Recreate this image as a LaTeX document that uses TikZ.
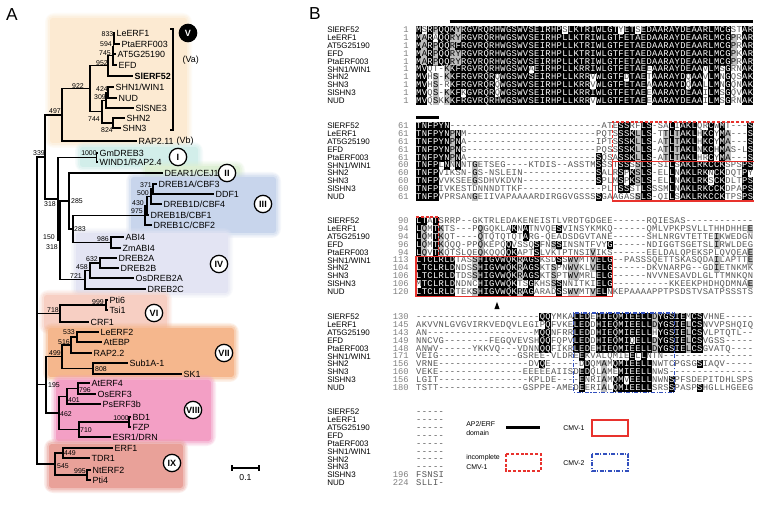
\documentclass[tikz,border=0pt]{standalone}
\usepackage{fontspec}
\setmainfont{Liberation Sans}
\newfontfamily\almonofam{Liberation Mono}
\definecolor{cV}{HTML}{FCEAD2}
\definecolor{cI}{HTML}{D2EEEA}
\definecolor{cII}{HTML}{DDEFD4}
\definecolor{cIII}{HTML}{C8D5EC}
\definecolor{cIV}{HTML}{E3E4F3}
\definecolor{cVI}{HTML}{F7CFC3}
\definecolor{cVII}{HTML}{F5B78D}
\definecolor{cVIII}{HTML}{F39FC5}
\definecolor{cIX}{HTML}{E9A199}
\definecolor{algray}{HTML}{BEBEBE}
\definecolor{alw}{HTML}{555555}
\definecolor{redb}{RGB}{232,50,45}
\definecolor{blueb}{RGB}{50,80,190}
\newcommand\tlf{\fontsize{6.7}{7.5}\selectfont}
\newcommand\tbs{\fontsize{5.2}{6}\selectfont}
\newcommand\cirf{\fontsize{6.8}{7}\selectfont\bfseries}
\newcommand\almono{\almonofam\fontsize{6.6}{7}\selectfont}
\newcommand\alnmf{\fontsize{6}{7}\selectfont}
\newcommand\lgf{\fontsize{5.2}{6}\selectfont}
\newcommand\softbox[5]{%
  \fill[#1,opacity=0.18,rounded corners=7pt] (#2-5,#3-5) rectangle (#4+5,#5+5);
  \fill[#1,opacity=0.25,rounded corners=5pt] (#2-3.5,#3-3.5) rectangle (#4+3.5,#5+3.5);
  \fill[#1,opacity=0.4,rounded corners=3.5pt] (#2-2,#3-2) rectangle (#4+2,#5+2);
  \fill[#1,rounded corners=2pt] (#2,#3) rectangle (#4,#5);}
\newcommand\alcell[4]{%
  \if b#3%
    \fill[black] (#1-0.15,#2-4.1) rectangle (#1+5.77,#2+4.1);
    \node[alch,text=white] at (#1+2.81,#2+2.5) {#4};%
  \else\if g#3%
    \fill[algray] (#1-0.15,#2-4.1) rectangle (#1+5.77,#2+4.1);
    \node[alch,text=black] at (#1+2.81,#2+2.5) {#4};%
  \else
    \node[alch,text=alw] at (#1+2.81,#2+2.5) {#4};%
  \fi\fi}
\ExplSyntaxOn
\int_new:N \l_al_cnt_int
\int_new:N \l_al_len_int
\tl_new:N \l_al_ch_tl
\cs_new:Npn \algap #1 { \prg_replicate:nn {#1} {-} }
\cs_new_protected:Npn \alrow #1#2#3
  {
    \tl_gclear_new:c { g_al_#1_#2_tl }
    \tl_gset:cx { g_al_#1_#2_tl } {#3}
  }
\cs_new_protected:Npn \aldraw #1#2#3
  {
    \int_step_inline:nn {10}
      {
        \int_set:Nn \l_al_len_int { \tl_count:c { g_al_#1_##1_tl } }
        \int_step_inline:nn { \l_al_len_int }
          {
            \tl_set:Nx \l_al_ch_tl { \tl_item:cn { g_al_#1_##1_tl } {####1} }
            \int_zero:N \l_al_cnt_int
            \int_step_inline:nn {10}
              {
                \str_if_eq:eeT { \tl_item:cn { g_al_#1_########1_tl } {####1} } { \l_al_ch_tl }
                  { \int_incr:N \l_al_cnt_int }
              }
            \str_if_eq:eeT { \l_al_ch_tl } { - } { \int_zero:N \l_al_cnt_int }
            \use:x
              {
                \exp_not:N \alcell
                  { \fp_eval:n { #3 + ( ####1 - 1 ) * 5.62 } }
                  { \fp_eval:n { #2 + ( ##1 - 1 ) * 7.9 } }
                  { \int_compare:nNnTF { \l_al_cnt_int } > { 4 } { b }
                      { \int_compare:nNnTF { \l_al_cnt_int } = { 4 } { g } { w } } }
                  { \l_al_ch_tl }
              }
          }
      }
  }
\ExplSyntaxOff
% block 1
\alrow{1}{1}{MSRPQQKYRGVRQRHWGSWVSEIRHPSLKTRIWLGTYETSEDAARAYDEAARLMCGSTAR}
\alrow{1}{2}{MARAQQRYRGVRQRHWGSWVSEIRHPLLKTRIWLGTFETAEDAARAYDEAARLMCGPRAR}
\alrow{1}{3}{MARPQQRFRGVRQRHWGSWVSEIRHPLLKTRIWLGTFETAEDAARAYDEAARLMCGPRAR}
\alrow{1}{4}{MARPQQRYRGVRQRHWGSWVSEIRHPLLKTRIWLGTFETAEDAARAYDEAARLMCGPKAR}
\alrow{1}{5}{MARPQQRYRGVRQRHWGSWVSEIRHPLLKTRIWLGTFETAEDAARAYDEAARLMCGPRAR}
\alrow{1}{6}{MVQT-KKFRGVRQRHWGSWVAEIRHPLLKRRIWLGTFETAEEAARAYDEAAVLMSGRNAK}
\alrow{1}{7}{MVHS-KKFRGVRQRQWGSWVSEIRHPLLKRRVWLGTFDTAETAARAYDQAAVLMNGQSAK}
\alrow{1}{8}{MVHS-RKFRGVRQRQWGSWVSEIRHPLLKRRVWLGTFETAEAAARAYDQAALLMNGQNAK}
\alrow{1}{9}{MVQS-KKFKGVRQRQWGSWVSEIRHPLLKRRIWLGTFETAEEAARAYDEAAILMSGQVAK}
\alrow{1}{10}{MVQSKKKFRGVRQRHWGSWVSEIRHPLLKRRVWLGTFETAEEAARAYDEAAILMSGRNAK}
% block 2
\alrow{2}{1}{TNFPYN\algap{27}ATESSRFLS-SALIAKLQRCWMT---S}
\alrow{2}{2}{TNFPYNPNM\algap{23}PQTSSSKLLS-TTLTAKLHKCYMA---S}
\alrow{2}{3}{TNFPYNPNA\algap{23}IPTSSSKLLS-ATLTAKLHKCYMA---S}
\alrow{2}{4}{TNFPYNPNG\algap{23}PQSSSSKLLS-ATLTAKLNKCHMAS-LS}
\alrow{2}{5}{TNFPYNPNA\algap{23}SQSASSKLLS-ATLTAKLHRCYMA---S}
\alrow{2}{6}{TNFPLNNNNTGETSEG----KTDIS--ASSTMSSSTSSSSLS-SILSAKLRKCCKSPSPS}
\alrow{2}{7}{TNFPVIKSN-GS-NSLEIN\algap{13}SALRSPKSLS-ELLNAKLRKNCKDQTPY}
\alrow{2}{8}{TNFPVVKSEEGSDHVKDVN\algap{13}SPLMSPKSLS-ELLNAKLRKSCKDLTPS}
\alrow{2}{9}{TNFPIVKESTDNNNDTTKF\algap{14}PLTSSSTLSSSMLNAKLRKCCKDPAPS}
\alrow{2}{10}{TNFPVPRSANGEIIVAPAAAARDIRGGVGSSSSGAAGASSLS-QILSAKLRKCCKTPSPS}
% block 3
\alrow{3}{1}{LTATSRRP--GKTRLEDAKENEISTLVRDTGDGEE\algap{6}RQIESAS\algap{12}}
\alrow{3}{2}{LQMTKTS---PQGQKLAKNATNVQESVINSYKMKQ\algap{6}QMLVPKPSVLLTHHDHHEE}
\alrow{3}{3}{LQMTKQT----QTQTQTQTARG-QEADSDGVTANE\algap{6}SHLNRGVTETTEIKWEDGN}
\alrow{3}{4}{LQMTKQQQ-PPQKEPQQVSSQSFNSSINSNTFVYG\algap{6}NDIGGTSGETSLIRWLDEG}
\alrow{3}{5}{LQVTKQTSLQEQKQQQQKAPTSLVKTPTNSIVIKS\algap{6}EELDALQPEKSPLQVQEAE}
\alrow{3}{6}{LTCLRLDTASSHIGVWQKRAGSKSDSSWVMTVELG--PASSSQETTSKASQDAILAPTTE}
\alrow{3}{7}{LTCLRLDNDSSHIGVWQKRAGSKTSPNWVKLVELG\algap{6}DKVNARPG--GDIETNKMK}
\alrow{3}{8}{LTCLRLDTDSSHIGVWQKRAGSKTSPTWVMRLELG\algap{6}NVVNESAVDLGLTTMNKQN}
\alrow{3}{9}{MTCLRLDNDNCHIGVWQKTSGKHSSSNNITKIELG\algap{10}KKEEKPHDHQDMNAE}
\alrow{3}{10}{LTCLRLDTEKSHIGVWQKRAGARADSSWVMTVELNKEPAAAAPPTPSDSTVSATPSSSTS}
% block 4
\alrow{4}{1}{\algap{22}QQYMKALEDEHIEQMIEELLDYGSIEMCSVHNE\algap{5}}
\alrow{4}{2}{AKVVNLGVGVIRKVEDQVLEGIPQFVKELEDDHIEQMIEELLDYGSIELCSNVVPSHQIQ}
\alrow{4}{3}{AN\algap{19}MQQNFRRLEDDHIEQMIEELLHYGSIELCSVLPTQTL--}
\alrow{4}{4}{NNCVG\algap{8}FEGQVEVSHQQFQPVLEDDHIEQMIQELLDYGSIELCSVGSS\algap{5}}
\alrow{4}{5}{ANWV\algap{6}YKKVQ---VDNNQQFIKRLEDEHIEQMIEELLDYGSIELCSGVATQ\algap{4}}
\alrow{4}{6}{VEIG\algap{14}GSREE-VLDREEKVALQMIEELLNTN\algap{16}}
\alrow{4}{7}{VRNE\algap{16}DVQE\algap{5}DDQMAMQMIEELLNWTCPGSGSIAQV\algap{5}}
\alrow{4}{8}{VEKE\algap{15}EEEEEAIISDEDQLAMEMIEELLNWS\algap{15}}
\alrow{4}{9}{LGIT\algap{16}KPLDE\algap{4}ENRIAMQMVEELLNWNSPFSDEPITDHLSPS}
\alrow{4}{10}{TSTT\algap{15}GSPPE-AMEDEERIALQMIEELLSRSSPASPSHGLLHGEEG}
% block 5
\alrow{5}{1}{-----}\alrow{5}{2}{-----}\alrow{5}{3}{-----}\alrow{5}{4}{-----}
\alrow{5}{5}{-----}\alrow{5}{6}{-----}\alrow{5}{7}{-----}\alrow{5}{8}{-----}
\alrow{5}{9}{FSNSI}\alrow{5}{10}{SLLI-}
\begin{document}
\begin{tikzpicture}[x=0.75pt,y=-0.75pt,
  br/.style={line width=1pt},
  lf/.style={anchor=west,inner sep=1pt,font=\tlf},
  bs/.style={inner sep=0pt,font=\tbs},
  circ/.style={circle,draw,line width=0.95pt,fill=white,inner sep=0pt,minimum size=13pt,font=\cirf},
  alch/.style={inner sep=0pt,anchor=base,font=\almono},
  alname/.style={inner sep=0pt,anchor=base west,font=\alnmf},
  alnum/.style={inner sep=0pt,anchor=base east,font=\almono,text=black!50},
  lg/.style={inner sep=0pt,anchor=west,font=\lgf},
  rsolid/.style={draw=redb,line width=1.1pt},
  rdash/.style={draw=redb,line width=1.1pt,dash pattern=on 2.2pt off 1.4pt},
  bdd/.style={draw=blueb,line width=1.1pt,dash pattern=on 3pt off 1.2pt on 0.8pt off 1.2pt}]
\fill[white] (0,0) rectangle (763,505);
\useasboundingbox (0,0) rectangle (763,505);
% ---------- panel A backgrounds
\softbox{cV}{50}{18}{187}{143}
\softbox{cI}{80}{147}{198}{167}
\softbox{cII}{145}{166}{240}{181}
\softbox{cIII}{131}{177}{276}{233}
\softbox{cIV}{76}{233}{228}{293}
\softbox{cVI}{44}{295}{167}{329}
\softbox{cVII}{48}{328}{234}{377}
\softbox{cVIII}{56}{380}{211}{441}
\softbox{cIX}{49}{444}{183}{488}
\node[font=\fontsize{13}{15}\selectfont,inner sep=0pt] (pA) at (12,15) {A};
\node[font=\fontsize{13}{15}\selectfont,inner sep=0pt] (pB) at (315,14) {B};
% ---------- leaves
\node[lf] (LeERF1) at (115,33) {LeERF1};
\node[lf] (PtaERF003) at (120,44) {PtaERF003};
\node[lf] (AT5G) at (116,54) {AT5G25190};
\node[lf] (EFD) at (117,65) {EFD};
\node[lf,font=\tlf\bfseries] (SlERF52) at (133,76) {SlERF52};
\node[lf] (SHN1) at (114,87) {SHN1/WIN1};
\node[lf] (NUD) at (117,98) {NUD};
\node[lf] (SlSNE3) at (134,108) {SlSNE3};
\node[lf] (SHN2) at (125,118) {SHN2};
\node[lf] (SHN3) at (121,128) {SHN3};
\node[lf] (RAP211) at (137,141) {RAP2.11};
\node[lf] (Vb) at (175,141) {(Vb)};
\node[lf] (Va) at (181,60) {(Va)};
\node[lf] (GmDREB3) at (98,153) {GmDREB3};
\node[lf] (WIND1) at (98,162) {WIND1/RAP2.4};
\node[lf] (DEAR1) at (163,173) {DEAR1/CEJ1};
\node[lf] (DREB1A) at (157,184) {DREB1A/CBF3};
\node[lf] (DDF1) at (214,194) {DDF1};
\node[lf] (DREB1D) at (162,204) {DREB1D/CBF4};
\node[lf] (DREB1B) at (149,215) {DREB1B/CBF1};
\node[lf] (DREB1C) at (152,225) {DREB1C/CBF2};
\node[lf] (ABI4) at (124,237) {ABI4};
\node[lf] (ZmABI4) at (121,248) {ZmABI4};
\node[lf] (DREB2A) at (117,258) {DREB2A};
\node[lf] (DREB2B) at (119,268) {DREB2B};
\node[lf] (OsDREB2A) at (134,278) {OsDREB2A};
\node[lf] (DREB2C) at (146,289) {DREB2C};
\node[lf] (Pti6) at (108,300) {Pti6};
\node[lf] (Tsi1) at (108,310) {Tsi1};
\node[lf] (CRF1) at (89,322) {CRF1};
\node[lf] (LeERF2) at (99,332) {LeERF2};
\node[lf] (AtEBP) at (102,342) {AtEBP};
\node[lf] (RAP22) at (92,353) {RAP2.2};
\node[lf] (Sub1A) at (128,363) {Sub1A-1};
\node[lf] (SK1) at (182,374) {SK1};
\node[lf] (AtERF4) at (90,383) {AtERF4};
\node[lf] (OsERF3) at (96,394) {OsERF3};
\node[lf] (PsERF3b) at (101,404) {PsERF3b};
\node[lf] (BD1) at (131,417) {BD1};
\node[lf] (FZP) at (131,427) {FZP};
\node[lf] (ESR1) at (111,437) {ESR1/DRN};
\node[lf] (ERF1) at (113,448) {ERF1};
\node[lf] (TDR1) at (90,458) {TDR1};
\node[lf] (NtERF2) at (91,470) {NtERF2};
\node[lf] (Pti4) at (91,480) {Pti4};
% ---------- internal nodes
\coordinate (a1) at (114,38.5);
\coordinate (a2) at (113.5,46.25);
\coordinate (a3) at (113,55.6);
\coordinate (b952) at (108,65.8);
\coordinate (c424) at (108,92.5);
\coordinate (c309) at (106,100.25);
\coordinate (c824) at (113,123);
\coordinate (c744) at (102,111.6);
\coordinate (d922) at (90,88.7);
\coordinate (e497) at (62,114.9);
\coordinate (i1000) at (96.5,157.5);
\coordinate (s371) at (153,189);
\coordinate (t500) at (151,196.5);
\coordinate (u430) at (147,205.75);
\coordinate (q975) at (145,215.4);
\coordinate (v986) at (111,242.5);
\coordinate (p283) at (73,229);
\coordinate (n285) at (69,201);
\coordinate (w632) at (100,263);
\coordinate (x458) at (90,270.5);
\coordinate (o721) at (85,279.75);
\coordinate (m150) at (60,240.4);
\coordinate (k318) at (58,199);
\coordinate (f339) at (45,157);
\coordinate (y999) at (106,305);
\coordinate (z718) at (60,313.5);
\coordinate (aa533) at (77,337);
\coordinate (ab516) at (71,345);
\coordinate (ac808) at (93,368.5);
\coordinate (ad499) at (62,356.75);
\coordinate (ae796) at (78,388.5);
\coordinate (af401) at (67,396.25);
\coordinate (ag1000) at (129,422);
\coordinate (ah710) at (79,429.5);
\coordinate (ai462) at (59,412.9);
\coordinate (aj195) at (46,384.8);
\coordinate (ak449) at (63,453);
\coordinate (al995) at (87,475);
\coordinate (am545) at (55,464);
\coordinate (root) at (37,310);
\foreach \p/\c in {a1/LeERF1.west,a1/PtaERF003.west,a2/a1,a2/AT5G.west,a3/a2,a3/EFD.west,
  b952/a3,b952/SlERF52.west,c424/SHN1.west,c424/NUD.west,c309/c424,c309/SlSNE3.west,
  c824/SHN2.west,c824/SHN3.west,c744/c309,c744/c824,d922/b952,d922/c744,e497/d922,
  e497/RAP211.west,f339/e497,f339/k318,k318/i1000,k318/m150,i1000/GmDREB3.west,
  i1000/WIND1.west,m150/n285,m150/o721,n285/DEAR1.west,n285/p283,p283/q975,p283/v986,
  q975/u430,q975/DREB1C.west,u430/t500,u430/DREB1B.west,t500/s371,t500/DREB1D.west,
  s371/DREB1A.west,s371/DDF1.west,v986/ABI4.west,v986/ZmABI4.west,o721/x458,
  o721/DREB2C.west,x458/w632,x458/OsDREB2A.west,w632/DREB2A.west,w632/DREB2B.west,
  root/f339,root/z718,root/aj195,root/am545,z718/y999,z718/CRF1.west,y999/Pti6.west,
  y999/Tsi1.west,aj195/ad499,aj195/ai462,ad499/ab516,ad499/ac808,ab516/aa533,
  ab516/RAP22.west,aa533/LeERF2.west,aa533/AtEBP.west,ac808/Sub1A.west,ac808/SK1.west,
  ai462/af401,ai462/ah710,af401/ae796,af401/PsERF3b.west,ae796/AtERF4.west,
  ae796/OsERF3.west,ah710/ag1000,ah710/ESR1.west,ag1000/BD1.west,ag1000/FZP.west,
  am545/ak449,am545/al995,ak449/ERF1.west,ak449/TDR1.west,al995/NtERF2.west,al995/Pti4.west}
  \draw[br] (\p) |- (\c);
% bootstrap values
\foreach \t/\x/\y [count=\k] in {833/107.5/34,594/106/44,745/105/53.5,952/102/63,922/78/86,
  424/102/89,309/100/97.5,744/94/119,824/107/130,497/55/111,339/39/153,1000/89/153.5,
  371/146/185,500/143/193,430/138/203,975/137/211.5,285/77/201,283/80/229,318/50/204,
  150/49/237,318/52/247,986/103/239.5,632/92/259,458/82/267,721/76/276.5,999/98/302,
  718/53/310.5,533/69/332,516/64/342,499/55/353,808/101/369,195/54/385,796/85/390,
  401/74/400,462/66/414,1000/121/418.5,710/86/430,449/70/453,545/63/466,995/80/471}
  \node[bs] (bs\k) at (\x,\y) {\t};
% clade bracket V
\coordinate (brt) at (173,29);
\coordinate (brb) at (173,130);
\draw[line width=0.9pt] ([xshift=-2.2pt]brt) -- (brt) -- (brb) -- ([xshift=-2.2pt]brb);
% circles
\node[circ,fill=black,text=white] (cV) at (188,33) {V};
\node[circ] (cI) at (178,157) {I};
\node[circ] (cII) at (227,173) {II};
\node[circ] (cIII) at (263,204) {III};
\node[circ] (cIV) at (219,264) {IV};
\node[circ] (cVI) at (154,313) {VI};
\node[circ] (cVII) at (224,353) {VII};
\node[circ] (cVIII) at (193,410) {VIII};
\node[circ] (cIX) at (172,463) {IX};
% scale bar
\coordinate (sbl) at (232,468);
\coordinate (sbr) at (259,468);
\draw[line width=0.9pt] (sbl) -- (sbr);
\draw[line width=0.9pt] ([yshift=2pt]sbl) -- ([yshift=-2pt]sbl);
\draw[line width=0.9pt] ([yshift=2pt]sbr) -- ([yshift=-2pt]sbr);
\node[font=\fontsize{6.5}{7}\selectfont,inner sep=0pt] (sbt) at (245.5,477.5) {0.1};
% ---------- panel B
\draw[line width=2.3pt] (449.7,21.5) -- (753,21.5);
\draw[line width=2.3pt] (416,117.5) -- (438.5,117.5);
\aldraw{1}{30}{416}
\aldraw{2}{126}{416}
\aldraw{3}{221}{416}
\aldraw{4}{317}{416}
\aldraw{5}{412}{416}
\foreach \yb [count=\bi] in {30,126,221,317,412}{
  \foreach \nm [count=\ri from 0] in {SlERF52,LeERF1,AT5G25190,EFD,PtaERF003,SHN1/WIN1,SHN2,SHN3,SlSHN3,NUD}
    \node[alname] (nm-\bi-\ri) at (327,\yb+\ri*7.9+2.6) {\nm};
}
\foreach \n [count=\ri from 0] in {1,1,1,1,1,1,1,1,1,1}
  \node[alnum] (na-\ri) at (409,30+\ri*7.9+2.5) {\n};
\foreach \n [count=\ri from 0] in {61,61,61,61,61,60,60,60,60,61}
  \node[alnum] (nb-\ri) at (409,126+\ri*7.9+2.5) {\n};
\foreach \n [count=\ri from 0] in {90,94,94,96,94,113,104,106,106,120}
  \node[alnum] (nc-\ri) at (409,221+\ri*7.9+2.5) {\n};
\foreach \n [count=\ri from 0] in {130,145,143,149,148,171,156,160,156,180}
  \node[alnum] (nd-\ri) at (409,317+\ri*7.9+2.5) {\n};
\node[alnum] (ne-8) at (409,412+8*7.9+2.5) {196};
\node[alnum] (ne-9) at (409,412+9*7.9+2.5) {224};
% CMV boxes
\draw[rdash] (753.5,122) -- (612.7,122) -- (612.7,161.5);
\draw[rsolid] (753.5,161.5) -- (612.7,161.5) -- (612.7,201) -- (753.5,201);
\draw[rdash] (416,217) -- (438.5,217) -- (438.5,256.5);
\draw[rsolid] (416,256.5) rectangle (612.7,296.5);
\draw[bdd] (573.4,313) rectangle (674.5,392.5);
\coordinate (tri) at (497,305.5);
\fill ([shift={(-2.6,3.6)}]tri) -- ([shift={(2.6,3.6)}]tri) -- ([shift={(0,-3.6)}]tri) -- cycle;
% legend
\node[lg] (lg1) at (466,424) {AP2/ERF};
\node[lg] (lg2) at (466,433) {domain};
\coordinate (lgbl) at (506,427.5);
\coordinate (lgbr) at (540,427.5);
\draw[line width=2.3pt] (lgbl) -- (lgbr);
\node[lg] (lg3) at (563,428) {CMV-1};
\draw[rsolid] (592,420) rectangle (628,436);
\node[lg] (lg4) at (466,458) {incomplete};
\node[lg] (lg5) at (466,467) {CMV-1};
\draw[rdash] (506,454) rectangle (541,471);
\node[lg] (lg6) at (563,463) {CMV-2};
\draw[bdd] (592,454) rectangle (628,471);
\end{tikzpicture}
\end{document}
